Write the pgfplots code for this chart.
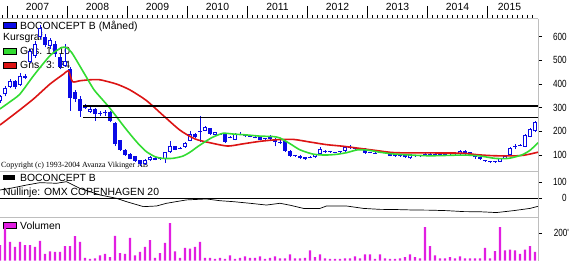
\documentclass[border=0pt]{standalone}
\usepackage{pgfplots}
\pgfplotsset{compat=1.18}
\usepackage{pgfplotstable}
\usepackage{fontspec}
\setmainfont{Liberation Sans}
\newfontfamily\serif{Liberation Serif}
\newcommand\lf{\fontsize{10.4}{12}\selectfont}
\definecolor{cblue}{RGB}{10,10,230}
\definecolor{cgreen}{RGB}{50,220,50}
\definecolor{cred}{RGB}{220,20,20}
\definecolor{cmag}{RGB}{225,30,225}
\definecolor{frm}{RGB}{190,190,190}

\pgfplotstableread{
m o h l c
-2 328 355 320 348
-1 356 390 348 382
0 388 422 382 414
1 412 418 380 388
2 398 445 392 436
3 436 442 420 425
4 495 548 490 540
5 520 580 512 570
6 600 650 592 635
7 600 610 555 565
8 560 595 550 585
9 570 580 515 525
10 515 525 462 470
11 478 570 472 496
12 462 470 288 340
13 365 375 325 335
14 335 348 262 287
15 298 316 294 310
16 282 302 278 296
17 296 300 245 272
18 278 285 265 274
19 280 292 265 276
20 280 286 238 245
21 236 240 138 146
22 162 165 118 122
23 122 125 96 100
24 104 107 82 85
25 95 98 72 75
26 78 80 55 62
27 64 82 58 78
28 78 95 74 90
29 88 92 78 80
30 87 90 80 83
31 85 115 68 112
32 112 161 108 140
33 137 140 120 123
34 130 132 124 126
35 133 155 130 151
36 161 200 158 189
37 189 192 172 175
38 203 266 155 196
39 203 224 200 220
40 213 216 186 189
41 185 199 182 196
42 191 194 184 187
43 189 192 150 157
44 177 180 170 173
45 165 192 162 189
46 191 196 184 187
47 184 190 176 180
48 182 186 175 178
49 177 181 170 173
50 175 178 162 165
51 170 173 163 166
52 179 183 165 168
53 168 170 137 157
54 156 162 148 152
55 161 164 115 119
56 119 121 93 97
57 99 102 92 95
58 97 99 83 86
59 90 92 80 83
60 92 94 86 88
61 90 106 88 104
62 104 132 102 125
63 118 121 109 112
64 116 118 110 112
65 113 115 107 109
66 116 118 110 112
67 118 136 115 133
68 135 143 125 131
69 130 133 123 126
70 127 130 120 123
71 125 128 106 109
72 113 115 107 109
73 110 112 104 106
74 113 115 107 109
75 113 115 107 109
76 111 113 94 97
77 104 106 93 95
78 99 101 93 95
79 100 102 88 90
80 86 106 84 104
81 99 101 93 95
82 99 101 93 95
83 106 108 100 102
84 106 108 100 102
85 106 108 100 102
86 106 108 100 102
87 104 106 98 100
88 102 104 96 98
89 102 104 96 98
90 104 120 102 118
91 118 120 101 104
92 111 113 95 97
93 100 102 84 90
94 90 92 80 83
95 78 80 72 74
96 74 76 68 70
97 74 76 68 70
98 72 88 70 86
99 86 100 84 98
100 100 132 98 129
101 137 145 125 133
102 144 147 138 140
103 135 187 132 184
104 178 213 175 210
105 200 244 197 240
}\candles

\pgfplotstableread{
m v
-2 111
-1 237
0 136
1 99
2 136
3 111
4 111
5 99
6 143
7 49
8 67
9 62
10 62
11 104
12 104
13 178
14 136
15 20
16 12
17 15
18 37
19 49
20 25
21 180
22 54
23 49
24 165
25 37
26 62
27 99
28 148
29 20
30 54
31 128
32 272
33 67
34 20
35 91
36 86
37 99
38 136
39 20
40 20
41 12
42 20
43 12
44 37
45 12
46 20
47 30
48 20
49 20
50 30
51 12
52 20
53 30
54 15
55 15
56 44
57 15
58 15
59 20
60 74
61 25
62 44
63 15
64 12
65 12
66 12
67 15
68 15
69 30
70 15
71 44
72 44
73 12
74 44
75 15
76 12
77 12
78 15
79 25
80 44
81 25
82 15
83 242
84 104
85 37
86 15
87 15
88 25
89 15
90 30
91 15
92 15
93 15
94 15
95 91
96 15
97 69
98 242
99 74
100 79
101 74
102 49
103 79
104 104
105 62
}\volumes

\begin{document}
\begin{tikzpicture}[x=1pt,y=1pt]
\path[use as bounding box] (0pt,0pt) rectangle (575pt,265pt);
% legend texts (beneath the plots)
\fill[cblue,draw=black,line width=0.4pt] (3.5pt,236.5pt) rectangle (16pt,242.5pt);
\node[anchor=base west,inner sep=0,font=\lf] at (20pt,235.7pt) {BOCONCEPT B (Måned)};
\node[anchor=base west,inner sep=0,font=\lf] at (3pt,224pt) {Kursgraf};
\fill[cgreen,draw=black,line width=0.4pt] (3.5pt,211pt) rectangle (16pt,217pt);
\node[anchor=base west,inner sep=0,font=\lf] at (20pt,210.5pt) {Gns. 1: 10};
\fill[cred,draw=black,line width=0.4pt] (3.5pt,197pt) rectangle (16pt,202.5pt);
\node[anchor=base west,inner sep=0,font=\lf] at (20pt,196.5pt) {Gns. 3: 24};
\node[anchor=base west,inner sep=0,font=\serif\fontsize{7.9}{9}\selectfont] at (1pt,97pt) {Copyright (c) 1993-2004 Avanza Vikinger AB};
\fill[black] (3pt,85pt) rectangle (15pt,90pt);
\node[anchor=base west,inner sep=0,font=\lf] at (20pt,83.5pt) {BOCONCEPT B};
\node[anchor=base west,inner sep=0,font=\lf] at (3pt,69.5pt) {Nullinje: OMX COPENHAGEN 20};
\fill[cmag,draw=black,line width=0.4pt] (3.5pt,37pt) rectangle (16pt,43pt);
\node[anchor=base west,inner sep=0,font=\lf] at (20pt,36pt) {Volumen};

% top time scale
\begin{axis}[at={(0pt,93pt)}, anchor=south west, scale only axis, width=538pt, height=153pt,
  xmin=-2, xmax=105.6, ymin=0, ymax=1,
  axis x line*=top, axis y line=none,
  axis line style={draw=frm, line width=1pt},
  xtick={-0.5,11.5,...,95.5}, minor xtick={-1.5,-0.5,...,104.5},
  xticklabels={2007,2008,2009,2010,2011,2012,2013,2014,\hspace*{-16pt}2015},
  tick align=outside, major tick length=13pt, minor tick length=4pt,
  tick style={black, line width=0.8pt},
  xticklabel style={font=\lf, xshift=30pt, yshift=-8pt}]
\end{axis}

% price panel
\begin{axis}[at={(0pt,93pt)}, anchor=south west, scale only axis, width=538pt, height=153pt,
  xmin=-2, xmax=105.6, ymin=28.4, ymax=674.8,
  axis x line*=box, axis y line*=right,
  axis line style={draw=frm, line width=1pt},
  xtick=\empty, ytick={100,200,300,400,500,600},
  yticklabels={100,200,300,400,500,600},
  tick align=outside, major tick length=4pt,
  tick style={black, line width=0.8pt},
  yticklabel style={font=\lf, xscale=0.78, anchor=east, xshift=35pt}]
\addplot[draw=none, mark=none, forget plot, error bars/.cd, y dir=plus, y explicit, error mark=none,
  error bar style={draw=cblue, line width=1pt}]
  table[x=m, y=l, y error expr=\thisrow{h}-\thisrow{l}] {\candles};
\addplot[draw=none, mark=none, forget plot, error bars/.cd, y dir=plus, y explicit, error mark=none,
  error bar style={draw=cblue, line width=3.6pt}]
  table[x=m, y expr={min(\thisrow{o},\thisrow{c})}, y error expr={abs(\thisrow{o}-\thisrow{c})}] {\candles};
\addplot[draw=none, mark=none, forget plot, error bars/.cd, y dir=plus, y explicit, error mark=none,
  error bar style={draw=white, line width=1.6pt}]
  table[x=m, y expr={\thisrow{o}+4.2}, y error expr={max(\thisrow{c}-\thisrow{o}-8.4,0)}] {\candles};
\addplot[cred, line width=1.6pt, smooth, tension=0.4] coordinates {
(-2,227) (1.3,280) (4.7,337) (8,400) (10.7,442) (11.7,456) (12.5,410) (14,414) (16,418) (18,418)
(21.3,400) (24,375) (27.3,330) (30.7,266) (34,205) (37,168) (40,152) (43.5,138) (46.5,147) (50,158)
(53.5,165) (56.7,166) (60,155) (63.3,144) (66.7,137) (70,128) (73.3,119) (77,110) (83.7,109)
(90.3,108) (93.7,101) (97,97) (101.7,97) (103.5,102) (105.6,112)};
\addplot[cgreen, line width=1.6pt, smooth, tension=0.4] coordinates {
(-2,295) (0,325) (2,358) (4.7,435) (8,520) (10,550) (11,556) (12.3,534) (14.7,450) (16.7,379)
(18,346) (19.7,305) (21.3,262) (23,215) (24.7,171) (26,140) (27.3,114) (29,93) (30.5,86) (32.5,86)
(34.5,95) (36,112) (37.5,135) (39,156) (40.5,175) (42.6,192) (44.5,189) (47.3,185) (50,180)
(52.7,178) (54,172) (56,148) (58,122) (60.6,104) (63,100) (65.3,103) (67.3,110) (69.5,122)
(71.5,121) (74,112) (77,104) (83.7,97) (90.3,100) (93.7,97) (97,86) (99.7,86) (102.3,100)
(104,120) (105.6,152)};
\addplot[black, line width=1.6pt] coordinates {(14.6,308) (105.6,308)};
\addplot[black, line width=1.6pt] coordinates {(14.6,258) (105.6,258)};
\end{axis}

% relative panel
\begin{axis}[at={(0pt,48pt)}, anchor=south west, scale only axis, width=538pt, height=45pt,
  xmin=-2, xmax=105.6, ymin=-118.75, ymax=162.5,
  axis x line*=box, axis y line*=right,
  axis line style={draw=frm, line width=1pt},
  xtick=\empty, ytick={0,100}, yticklabels={0,100},
  tick align=outside, major tick length=4pt,
  tick style={black, line width=0.8pt},
  yticklabel style={font=\lf, xscale=0.78, anchor=east, xshift=35pt}]
\addplot[black, line width=0.8pt] coordinates {(-2,0) (105.6,0)};
\addplot[black, line width=0.7pt] coordinates {
(-2,50) (0,60) (3.3,81) (6,96) (9.3,92) (11.3,102) (14,60) (18,19) (21.3,-2) (23.3,-23)
(26.7,-54) (29.3,-50) (31.3,-33) (35.3,-12) (39.3,-6) (42,-17) (44.7,-23) (48,-33) (51.3,-44)
(54,-33) (56,-45) (58.7,-65) (62,-65) (63.3,-50) (67.3,-50) (70.7,-65) (74,-71) (77,-72)
(80.7,-75) (84,-76) (87.3,-79) (90.7,-85) (94,-86) (97.3,-91) (100.7,-79) (104,-65) (105.6,-52)};
\end{axis}

% volume panel
\begin{axis}[at={(0pt,4.5pt)}, anchor=south west, scale only axis, width=538pt, height=43.5pt,
  xmin=-2, xmax=105.6, ymin=0, ymax=316.4,
  axis x line*=top, axis y line*=right,
  axis line style={draw=frm, line width=1pt},
  xtick=\empty, ytick={200}, yticklabels={200\textquotesingle},
  tick align=outside, major tick length=4pt,
  tick style={black, line width=0.8pt},
  yticklabel style={font=\lf, xscale=0.78, anchor=east, xshift=38pt}]
\addplot[ybar, bar width=2.4pt, fill=cmag, draw=none] table[x=m, y=v] {\volumes};
\end{axis}
\end{tikzpicture}
\end{document}
